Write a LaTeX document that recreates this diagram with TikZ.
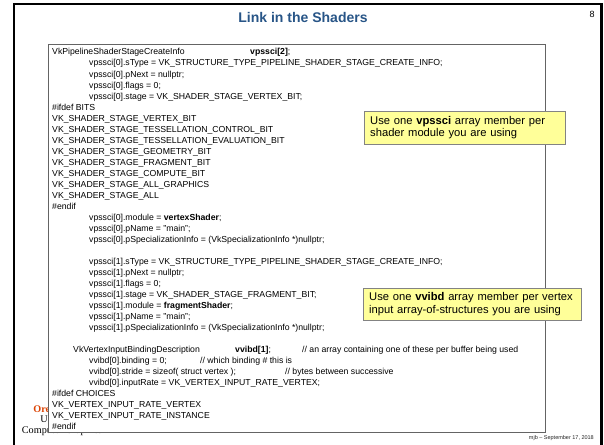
\documentclass[tikz,border=0pt]{standalone}
\usepackage{fontspec}
\setmainfont{Liberation Sans}
\newfontfamily\logofont{Liberation Serif}
\definecolor{titleblue}{RGB}{40,85,135}
\definecolor{osuorange}{RGB}{220,68,5}
\definecolor{noteyellow}{RGB}{255,255,153}
\definecolor{boxgray}{RGB}{100,100,100}
\newcommand\codeln[4]{\node[code] (#1) at (#2,{55+(#3-1)*11}) {#4};}
\begin{document}
\begin{tikzpicture}[x=1pt,y=-1pt,
  code/.style={anchor=base west,inner sep=0pt,font=\fontsize{8.7}{10}\selectfont},
  note/.style={draw=boxgray!80,fill=noteyellow,anchor=north west,align=left,inner xsep=6pt,inner ysep=2pt,font=\fontsize{11.2}{12.6}\selectfont},
  logo/.style={anchor=base,inner sep=0pt,font=\logofont\fontsize{10.2}{11}\selectfont}]
\useasboundingbox (0,0) rectangle (604,444);
\fill[white] (0,0) rectangle (604,444);
\draw[line width=2.6pt] (14,4) rectangle (601.5,452);
\node[font=\bfseries\fontsize{14}{16}\selectfont,text=titleblue,inner sep=0pt] (title) at (303,17) {Link in the Shaders};
\node[font=\fontsize{9}{10}\selectfont,inner sep=0pt] (pg) at (592,14) {8};
\node[logo,text=osuorange,font=\logofont\bfseries\fontsize{10.2}{11}\selectfont] (osu1) at (62,412) {Oregon State};
\node[logo] (osu2) at (62,422.5) {University};
\node[logo] (osu3) at (62,433) {Computer Graphics};
\node[draw=boxgray,fill=white,line width=0.7pt,anchor=north west,minimum width=497,minimum height=388,inner sep=0pt] (box) at (48,44) {};
\node[font=\fontsize{5.5}{6}\selectfont,anchor=base east,inner sep=0pt,text=black!85] (foot) at (594,439) {mjb -- September 17, 2018};
\codeln{l1}{52}{1}{VkPipelineShaderStageCreateInfo}
\codeln{l1b}{250}{1}{\textbf{vpssci[2]};}
\codeln{l2}{89}{2}{vpssci[0].sType = VK\_STRUCTURE\_TYPE\_PIPELINE\_SHADER\_STAGE\_CREATE\_INFO;}
\codeln{l3}{89}{3}{vpssci[0].pNext = nullptr;}
\codeln{l4}{89}{4}{vpssci[0].flags = 0;}
\codeln{l5}{89}{5}{vpssci[0].stage = VK\_SHADER\_STAGE\_VERTEX\_BIT;}
\codeln{l6}{52}{6}{\#ifdef BITS}
\codeln{l7}{52}{7}{VK\_SHADER\_STAGE\_VERTEX\_BIT}
\codeln{l8}{52}{8}{VK\_SHADER\_STAGE\_TESSELLATION\_CONTROL\_BIT}
\codeln{l9}{52}{9}{VK\_SHADER\_STAGE\_TESSELLATION\_EVALUATION\_BIT}
\codeln{l10}{52}{10}{VK\_SHADER\_STAGE\_GEOMETRY\_BIT}
\codeln{l11}{52}{11}{VK\_SHADER\_STAGE\_FRAGMENT\_BIT}
\codeln{l12}{52}{12}{VK\_SHADER\_STAGE\_COMPUTE\_BIT}
\codeln{l13}{52}{13}{VK\_SHADER\_STAGE\_ALL\_GRAPHICS}
\codeln{l14}{52}{14}{VK\_SHADER\_STAGE\_ALL}
\codeln{l15}{52}{15}{\#endif}
\codeln{l16}{89}{16}{vpssci[0].module = \textbf{vertexShader};}
\codeln{l17}{89}{17}{vpssci[0].pName = "main";}
\codeln{l18}{89}{18}{vpssci[0].pSpecializationInfo = (VkSpecializationInfo *)nullptr;}
\codeln{l20}{89}{20}{vpssci[1].sType = VK\_STRUCTURE\_TYPE\_PIPELINE\_SHADER\_STAGE\_CREATE\_INFO;}
\codeln{l21}{89}{21}{vpssci[1].pNext = nullptr;}
\codeln{l22}{89}{22}{vpssci[1].flags = 0;}
\codeln{l23}{89}{23}{vpssci[1].stage = VK\_SHADER\_STAGE\_FRAGMENT\_BIT;}
\codeln{l24}{89}{24}{vpssci[1].module = \textbf{fragmentShader};}
\codeln{l25}{89}{25}{vpssci[1].pName = "main";}
\codeln{l26}{89}{26}{vpssci[1].pSpecializationInfo = (VkSpecializationInfo *)nullptr;}
\codeln{l28}{73}{28}{VkVertexInputBindingDescription}
\codeln{l28b}{235}{28}{\textbf{vvibd[1]};}
\codeln{l28c}{302}{28}{// an array containing one of these per buffer being used}
\codeln{l29}{89}{29}{vvibd[0].binding = 0;}
\codeln{l29b}{200}{29}{// which binding \# this is}
\codeln{l30}{89}{30}{vvibd[0].stride = sizeof( struct vertex );}
\codeln{l30b}{285}{30}{// bytes between successive}
\codeln{l31}{89}{31}{vvibd[0].inputRate = VK\_VERTEX\_INPUT\_RATE\_VERTEX;}
\codeln{l32}{52}{32}{\#ifdef CHOICES}
\codeln{l33}{52}{33}{VK\_VERTEX\_INPUT\_RATE\_VERTEX}
\codeln{l34}{52}{34}{VK\_VERTEX\_INPUT\_RATE\_INSTANCE}
\codeln{l35}{52}{35}{\#endif}
\node[note,text width=189pt,minimum height=33] (n1) at (364,111) {Use one \textbf{vpssci} array member per\\shader module you are using};
\node[note,text width=206pt,minimum height=32] (n2) at (363,288) {Use one \textbf{vvibd} array member per vertex\\input array-of-structures you are using};
\end{tikzpicture}
\end{document}
